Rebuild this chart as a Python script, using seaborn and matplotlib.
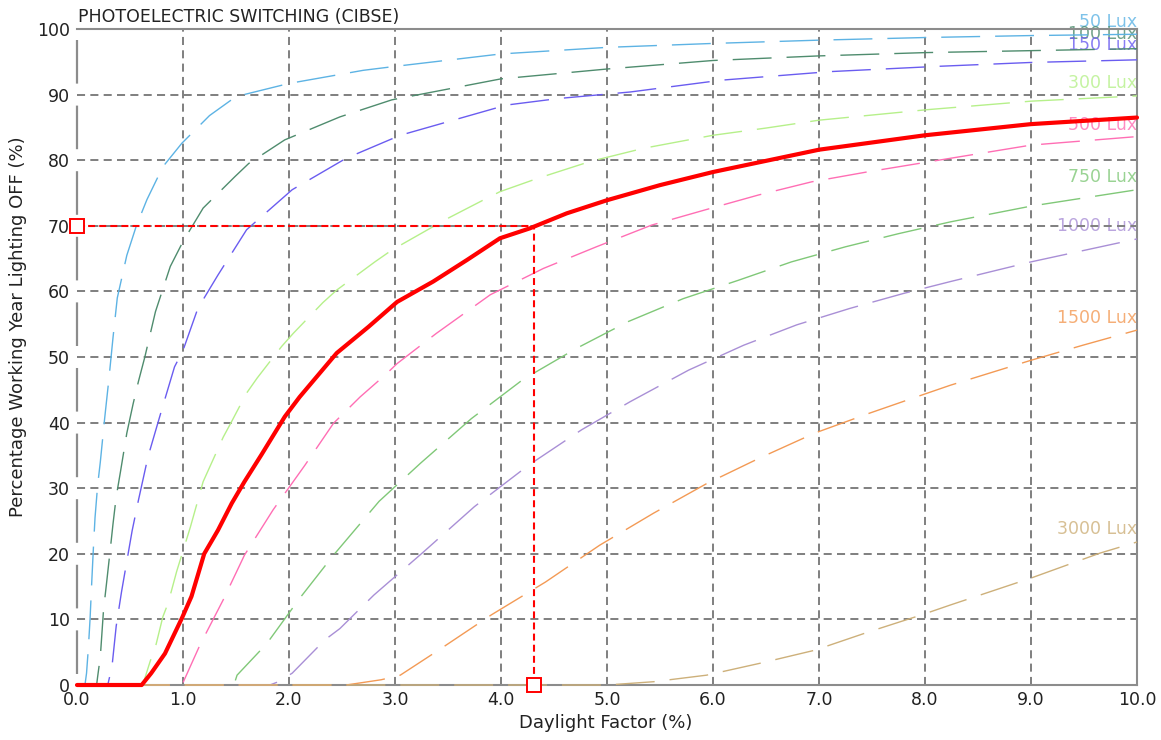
import matplotlib
matplotlib.use("Agg")
import matplotlib.pyplot as plt
import seaborn as sns
import numpy as np

# ==========================================
# DATA
# ==========================================

df_50 = [0, 0.075, 0.09, 0.107, 0.123, 0.14, 0.155, 0.17, 0.195, 0.22, 0.26, 0.30,
         0.34, 0.38, 0.47, 0.56, 0.66, 0.81, 0.99, 1.25, 1.5, 2.0, 2.7, 3.0, 4.0,
         5.0, 6.0, 7.0, 8.0, 9.0, 10.0]
off_50 = [0, 0, 1.8, 5.6, 10, 16, 21, 25.5, 30.5, 34, 40.5, 46.5,
          53, 59, 65.5, 70, 74, 79, 82.6, 86.8, 89.7, 91.7, 93.7, 94.3, 96.2,
          97.2, 97.8, 98.3, 98.7, 99.0, 99.2]

df_100 = [0, 0.185, 0.195, 0.22, 0.25, 0.28, 0.31, 0.34, 0.37, 0.41, 0.47, 0.53,
          0.58, 0.64, 0.74, 0.88, 1.0, 1.19, 1.49, 1.62, 1.96, 2.48, 2.97, 4.0,
          5.0, 6.0, 7.0, 8.0, 9.0, 10.0]
off_100 = [0, 0, 1.3, 4.3, 11.4, 15.7, 20.1, 24.6, 28.7, 32.5, 38.4, 42.9,
           46.3, 50, 56.9, 63.8, 67.6, 72.7, 77.5, 79.5, 83.1, 86.6, 89.2, 92.4,
           93.9, 95.2, 95.9, 96.4, 96.7, 97.0]

df_150 = [0, 0.29, 0.33, 0.37, 0.42, 0.45, 0.52, 0.58, 0.67, 0.80, 0.92, 1.0,
          1.14, 1.33, 1.60, 2.03, 2.54, 3.05, 3.55, 4.05, 4.54, 5.22, 6.08, 7.1,
          8.11, 9.0, 10.0]
off_150 = [0, 0, 2.8, 9, 14.2, 17, 23.5, 28.2, 34.8, 42, 48.5, 51,
           57.4, 62.5, 69.4, 75.5, 80.3, 83.8, 86.1, 88.4, 89.4, 90.4, 92.2, 93.5,
           94.3, 94.9, 95.3]

df_300 = [0, 0.62, 0.69, 0.74, 0.81, 0.86, 0.94, 1.07, 1.19, 1.38, 1.46, 1.60,
          1.70, 1.93, 2.04, 2.32, 2.45, 2.81, 2.97, 3.33, 3.47, 3.83, 3.99, 4.34,
          4.84, 5.34, 6.0, 6.5, 7.0, 7.51, 8.02, 9.0, 10.0]
off_300 = [0, 0, 3.6, 5.8, 10.4, 12.5, 17.3, 24.1, 31, 37.8, 40.2, 44.5,
           46.8, 51.6, 53.6, 58.3, 60.2, 64.5, 66.3, 69.6, 70.9, 73.9, 75.2, 77.2,
           79.8, 81.8, 83.8, 84.9, 86.1, 86.9, 87.7, 89.0, 89.8]

df_500 = [0, 0.99, 1.16, 1.38, 1.58, 1.85, 2.15, 2.42, 2.67, 2.91, 3.02, 3.39,
          3.90, 4.40, 4.90, 5.42, 5.92, 6.43, 6.93, 7.45, 7.94, 9.0, 10.0]
off_500 = [0, 0, 6.1, 13, 19.8, 26.7, 33.5, 39.9, 43.9, 47.3, 49, 53.6,
           59.5, 63.5, 66.8, 70.1, 72.4, 74.7, 76.7, 78.2, 79.5, 82.3, 83.6]

df_750 = [0, 1.48, 1.51, 1.79, 2.10, 2.42, 2.85, 3.24, 3.72, 4.21, 4.71, 5.2,
          5.72, 6.24, 6.74, 7.25, 7.75, 8.24, 9.0, 10.0]
off_750 = [0, 0, 1.5, 6.3, 13.2, 19.8, 28, 33.8, 40.6, 46.6, 51.3, 55.4,
           58.9, 61.7, 64.5, 66.8, 68.8, 70.6, 73.0, 75.5]

df_1000 = [0, 1.82, 1.90, 2.03, 2.34, 2.48, 2.80, 3.27, 3.75, 4.26, 4.76, 5.22,
           5.77, 6.29, 6.79, 7.29, 7.8, 8.24, 9.0, 10.0]
off_1000 = [0, 0, 0.5, 1.8, 6.9, 8.6, 13.7, 20.3, 27.2, 33.5, 38.9, 43.2,
            48, 51.8, 54.9, 57.4, 59.7, 61.5, 64.5, 68]

df_1500 = [0, 2.54, 2.87, 3.05, 3.41, 3.91, 4.42, 4.93, 5.44, 5.94, 6.44, 6.96,
           7.47, 7.97, 8.24, 9.0, 9.49, 10.0]
off_1500 = [0, 0, 0.8, 1.5, 5.3, 10.7, 15.7, 21.3, 26.2, 30.7, 34.6, 38.4,
            41.4, 44.2, 45.7, 49.5, 51.8, 54.1]

df_3000 = [0, 5.0, 5.44, 5.94, 6.44, 6.96, 7.47, 7.97, 8.24, 9.0, 9.65, 10.0]
off_3000 = [0, 0, 0.5, 1.5, 3.3, 5.3, 8.1, 10.7, 12.2, 16.3, 20.1, 21.8]

# design curve (thick red)
df_design = [0, 0.61, 0.70, 0.83, 0.99, 1.08, 1.20, 1.33, 1.46, 1.58, 1.74, 1.96,
             2.10, 2.45, 2.75, 3.02, 3.36, 3.68, 3.99, 4.27, 4.62, 5.0, 5.5, 6.0,
             7.0, 8.0, 9.0, 10.0]
off_design = [0, 0, 1.8, 4.8, 10.2, 13.5, 20, 23.6, 27.7, 31.0, 35.1, 40.9,
              43.9, 50.6, 54.6, 58.4, 61.5, 64.8, 68.1, 69.6, 71.9, 73.9, 76.2, 78.2,
              81.6, 83.8, 85.5, 86.5]

# operating point
design_df = 4.31
design_off = 70

lux_labels = ["50 Lux", "100 Lux", "150 Lux", "300 Lux", "500 Lux",
              "750 Lux", "1000 Lux", "1500 Lux", "3000 Lux"]

x_ticks = [0, 1, 2, 3, 4, 5, 6, 7, 8, 9, 10]
y_ticks = [0, 10, 20, 30, 40, 50, 60, 70, 80, 90, 100]

# ==========================================
# STYLE
# ==========================================

sns.set_style("white")
plt.rcParams["font.family"] = ["DejaVu Sans"]
plt.rcParams["lines.scale_dashes"] = False

curve_colors = ["#5db3e4", "#4f8c6e", "#6a5cf0", "#b6f08a", "#ff6eb4",
                "#80c878", "#a98fd6", "#f39a55", "#cdb07a"]
label_y = [101.0, 99.3, 97.5, 91.8, 85.4, 77.4, 70.0, 55.9, 23.8]

curves = [
    (df_50, off_50), (df_100, off_100), (df_150, off_150),
    (df_300, off_300), (df_500, off_500), (df_750, off_750),
    (df_1000, off_1000), (df_1500, off_1500), (df_3000, off_3000),
]

grid_col = "#7f7f7f"
spine_col = "#8c8c8c"
text_col = "#222222"

# ==========================================
# FIGURE
# ==========================================

W, H = 1161, 740
fig = plt.figure(figsize=(W / 100, H / 100), dpi=100)
ax = fig.add_axes([77 / W, 55 / H, 1060 / W, 656 / H])

ax.set_xlim(0, 10)
ax.set_ylim(0, 100)

# grid
for xv in x_ticks[1:-1]:
    ax.axvline(xv, color=grid_col, lw=1.4, ls=(0, (5.8, 3.8)), zorder=1)
for yv in y_ticks[1:-1]:
    ax.axhline(yv, color=grid_col, lw=1.4, ls=(0, (5.8, 3.8)), zorder=1)

# curve labels (drawn underneath everything)
for text, ly, col in zip(lux_labels, label_y, curve_colors):
    ax.text(10.0, ly, text, color=col, alpha=0.8, fontsize=12.5,
            ha="right", va="center", zorder=0.5, clip_on=False)

# lux curves
for (xs, ys), col in zip(curves, curve_colors):
    sns.lineplot(x=xs, y=ys, ax=ax, color=col, linewidth=1.0,
                 linestyle=(0, (28, 10.8)), estimator=None, sort=False,
                 clip_on=False, zorder=3)

# design curve
sns.lineplot(x=df_design, y=off_design, ax=ax, color="#ff0000",
             linewidth=3.0, estimator=None, sort=False,
             clip_on=False, zorder=5)

# operating point crosshair
ax.plot([0, design_df], [design_off, design_off], color="#ff0000", lw=1.5,
        ls=(0, (5, 3)), zorder=4)
ax.plot([design_df, design_df], [0, design_off], color="#ff0000", lw=1.5,
        ls=(0, (5, 3)), zorder=4)
ax.plot([0], [design_off], marker="s", ms=9.5, mfc="white", mec="#ff0000",
        mew=1.4, clip_on=False, zorder=6, ls="none")
ax.plot([design_df], [0], marker="s", ms=9.5, mfc="white", mec="#ff0000",
        mew=1.4, clip_on=False, zorder=6, ls="none")

# spines: solid top/right/bottom, broken left
for side in ["top", "right", "bottom"]:
    ax.spines[side].set_color(spine_col)
    ax.spines[side].set_linewidth(1.5)
    ax.spines[side].set_zorder(2)
ax.spines["left"].set_visible(False)
ax.plot([0, 0], [0, 100], color=spine_col, lw=1.6, clip_on=False,
        ls=(39.3, (31.4, 15.83)), zorder=2)

# ticks
ax.set_xticks(x_ticks)
ax.set_xticklabels([f"{v:.1f}" for v in x_ticks])
ax.set_yticks(y_ticks)
ax.set_yticklabels([str(v) for v in y_ticks])
ax.tick_params(axis="both", length=0, labelsize=12.5, colors=text_col)
ax.tick_params(axis="y", pad=5)
ax.tick_params(axis="x", pad=4)
ax.set_xlabel("")
ax.set_ylabel("")

# titles / axis labels
fig.text(78 / W, 1 - 22 / H, "PHOTOELECTRIC SWITCHING (CIBSE)",
         fontsize=12.5, color=text_col, ha="left", va="baseline")
fig.text(606 / W, 1 - 723 / H, "Daylight Factor (%)",
         fontsize=13, color=text_col, ha="center", va="center")
fig.text(18 / W, 1 - 327 / H, "Percentage Working Year Lighting OFF (%)",
         fontsize=13, color=text_col, ha="center", va="center", rotation=90)

fig.savefig("out.png", dpi=100)
